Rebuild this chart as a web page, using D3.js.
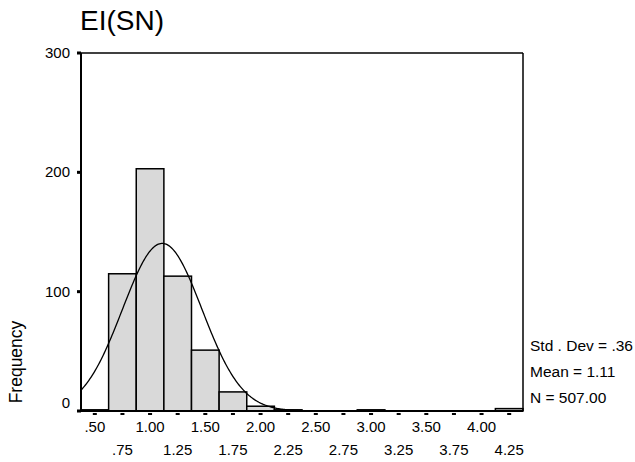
<!DOCTYPE html>
<html>
<head>
<meta charset="utf-8">
<script src="https://cdn.jsdelivr.net/npm/d3@7"></script>
<style>
  html, body { margin: 0; padding: 0; background: #fff; }
  svg { display: block; font-family: "Liberation Sans", Arial, sans-serif; }
</style>
</head>
<body>
<svg id="chart" width="635" height="462"></svg>
<script>
// Histogram of EI(SN): bin midpoints and counts
const binMids = [0.50, 0.75, 1.00, 1.25, 1.50, 1.75, 2.00, 2.25, 2.50, 2.75, 3.00, 3.25, 3.50, 3.75, 4.00, 4.25];
const counts  = [1, 115, 203, 113, 51, 16, 4, 1, 0, 0, 1, 0, 0, 0, 0, 2];
const tickLabels = [".50", ".75", "1.00", "1.25", "1.50", "1.75", "2.00", "2.25",
                    "2.50", "2.75", "3.00", "3.25", "3.50", "3.75", "4.00", "4.25"];
const yTicks = [0, 100, 200, 300];
const binWidth = 0.25;
const stats = { sd: 0.36, mean: 1.11, n: 507 };
const statLines = ["Std . Dev = .36", "Mean = 1.11", "N = 507.00"];
const title = "EI(SN)";

const svg = d3.select("#chart");
const plotLeft = 81, plotRight = 523, plotTop = 53, plotBottom = 411;

const x = d3.scaleLinear()
  .domain([binMids[0] - binWidth / 2, binMids[binMids.length - 1] + binWidth / 2])
  .range([plotLeft, plotRight]);
const y = d3.scaleLinear().domain([0, 300]).range([plotBottom, plotTop]);

// Title
svg.append("text").attr("x", 80).attr("y", 30)
  .attr("font-size", 28).attr("fill", "#000").text(title);

// Bars
svg.append("g").selectAll("rect").data(binMids.map((m, i) => ({ m, c: counts[i] })).filter(d => d.c > 0))
  .join("rect")
  .attr("x", d => x(d.m - binWidth / 2))
  .attr("y", d => y(d.c))
  .attr("width", d => x(d.m + binWidth / 2) - x(d.m - binWidth / 2))
  .attr("height", d => y(0) - y(d.c))
  .attr("fill", "#d9d9d9")
  .attr("stroke", "#000")
  .attr("stroke-width", 1.5);

// Normal curve scaled to counts per bin
const norm = xv => stats.n * binWidth / (stats.sd * Math.sqrt(2 * Math.PI)) *
  Math.exp(-0.5 * Math.pow((xv - stats.mean) / stats.sd, 2));
const xs = d3.range(x.domain()[0], x.domain()[1] + 0.001, 0.01);
svg.append("path")
  .datum(xs)
  .attr("fill", "none")
  .attr("stroke", "#000")
  .attr("stroke-width", 1.3)
  .attr("d", d3.line().x(d => x(d)).y(d => y(norm(d))));

// Frame: top and right thin, left and bottom heavier
svg.append("line").attr("x1", plotLeft).attr("x2", plotRight).attr("y1", plotTop).attr("y2", plotTop)
  .attr("stroke", "#000").attr("stroke-width", 1.5);
svg.append("line").attr("x1", plotRight).attr("x2", plotRight).attr("y1", plotTop).attr("y2", plotBottom)
  .attr("stroke", "#000").attr("stroke-width", 1.5);
svg.append("line").attr("x1", plotLeft).attr("x2", plotLeft).attr("y1", plotTop).attr("y2", plotBottom + 1)
  .attr("stroke", "#000").attr("stroke-width", 2);
svg.append("line").attr("x1", plotLeft - 1).attr("x2", plotRight).attr("y1", plotBottom).attr("y2", plotBottom)
  .attr("stroke", "#000").attr("stroke-width", 2);

// Y axis ticks and labels
const yg = svg.append("g");
yg.selectAll("rect").data(yTicks).join("rect")
  .attr("x", plotLeft - 4).attr("y", d => y(d) - 1.5).attr("width", 4).attr("height", 3).attr("fill", "#000");
yg.selectAll("text").data(yTicks).join("text")
  .attr("x", 70).attr("y", d => y(d) + (d === 0 ? -3 : 5))
  .attr("text-anchor", "end").attr("font-size", 15).text(d => d);

// X axis ticks and staggered labels
const xg = svg.append("g");
xg.selectAll("rect").data(binMids).join("rect")
  .attr("x", d => x(d) - 2).attr("y", plotBottom + 2).attr("width", 4).attr("height", 2).attr("fill", "#000");
xg.selectAll("text").data(binMids).join("text")
  .attr("x", d => x(d)).attr("y", (d, i) => i % 2 === 0 ? 432 : 455)
  .attr("text-anchor", "middle").attr("font-size", 15)
  .text((d, i) => tickLabels[i]);

// Y axis title
svg.append("text")
  .attr("transform", "translate(22,362) rotate(-90)")
  .attr("text-anchor", "middle").attr("font-size", 17.5).text("Frequency");

// Summary statistics
svg.append("g").selectAll("text").data(statLines).join("text")
  .attr("x", 530).attr("y", (d, i) => 351 + i * 26)
  .attr("font-size", 15.5).text(d => d);
</script>
</body>
</html>
